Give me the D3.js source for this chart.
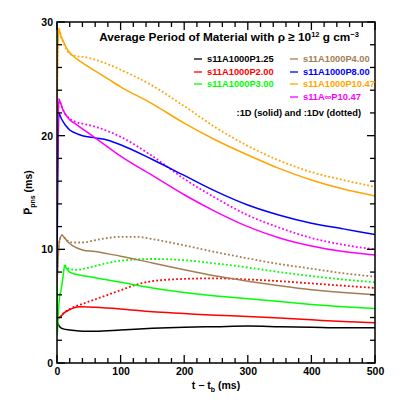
<!DOCTYPE html>
<html>
<head>
<meta charset="utf-8">
<script src="https://cdn.jsdelivr.net/npm/d3@7"></script>
<style>
  body { margin: 0; background: #fff; }
  text { font-family: "Liberation Sans", Arial, sans-serif; font-weight: bold; }
</style>
</head>
<body>
<div id="chart"></div>
<script>
// Data: [t - t_b (ms), mean period (ms)]
const p125_1D = [[0.5,3.6],[2,3.4],[5,3.15],[10,3.0],[20,2.9],[40,2.8],[60,2.8],[100,2.9],[150,3.05],[200,3.15],[250,3.2],[300,3.25],[350,3.2],[400,3.15],[450,3.1],[500,3.1]];
const p200_1D = [[0,3.8],[3,3.95],[6,4.1],[10,4.35],[20,4.7],[35,4.95],[60,4.9],[100,4.75],[150,4.5],[200,4.35],[250,4.2],[300,4.1],[350,3.95],[400,3.8],[450,3.65],[500,3.55]];
const p200_1Dv = [[0,3.8],[3,3.95],[6,4.1],[10,4.35],[20,4.75],[40,5.2],[60,5.6],[80,6.0],[100,6.4],[125,6.9],[150,7.2],[200,7.4],[250,7.45],[300,7.35],[350,7.2],[400,7.0],[450,6.8],[500,6.6]];
const p300_1D = [[0,29.3],[0.5,2.5],[2,4.3],[4,5.8],[6,6.3],[8,7.0],[10,7.8],[12,8.6],[15,8.3],[20,8.0],[30,7.8],[50,7.6],[75,7.35],[100,7.1],[150,6.6],[200,6.2],[250,5.9],[300,5.65],[350,5.4],[400,5.15],[450,4.95],[500,4.8]];
const p300_1Dv = [[12,8.6],[16,8.4],[20,8.25],[30,8.2],[50,8.4],[75,8.75],[100,9.0],[150,9.15],[200,9.05],[250,8.75],[300,8.4],[350,8.0],[400,7.65],[450,7.35],[500,7.1]];
const p400_1D = [[0,7],[2,9.5],[4,10.8],[8,11.25],[12,11.0],[18,10.6],[25,10.3],[40,9.95],[60,9.8],[80,9.6],[100,9.4],[150,8.8],[200,8.2],[250,7.65],[300,7.2],[350,6.8],[400,6.45],[450,6.2],[500,6.0]];
const p400_1Dv = [[0,7],[2,9.5],[4,10.8],[8,11.25],[12,11.0],[18,10.7],[25,10.6],[40,10.6],[60,10.8],[80,11.0],[100,11.1],[125,11.1],[150,10.9],[200,10.35],[250,9.75],[300,9.2],[350,8.7],[400,8.3],[450,7.9],[500,7.6]];
const p800_1D = [[0,8],[1,15],[3,22.0],[6,21.6],[10,21.2],[15,20.8],[20,20.5],[30,20.2],[40,20.0],[60,19.8],[80,19.6],[100,19.2],[150,17.9],[200,16.5],[250,15.1],[300,13.9],[350,13.0],[400,12.3],[450,11.8],[500,11.3]];
const p1047_1D = [[0,22],[1,27],[3,29.4],[6,28.8],[10,28.3],[15,27.7],[20,27.3],[30,26.8],[40,26.4],[60,25.7],[80,25.0],[100,24.3],[150,22.8],[200,21.1],[250,19.6],[300,18.3],[350,17.1],[400,16.1],[450,15.3],[500,14.7]];
const p1047_1Dv = [[0,22],[1,27],[3,29.4],[6,28.8],[10,28.2],[15,27.6],[20,27.2],[30,27.0],[45,26.9],[70,26.5],[100,25.8],[150,24.4],[200,22.6],[250,20.7],[300,19.1],[350,17.8],[400,16.8],[450,16.1],[500,15.5]];
const inf1047_1D = [[0,14],[1,19],[3,23.2],[6,22.8],[10,22.2],[20,21.4],[30,21.0],[40,20.6],[60,19.8],[80,19.0],[100,18.2],[150,16.5],[200,14.8],[250,13.3],[300,12.0],[350,11.0],[400,10.3],[450,9.8],[500,9.5]];
const inf1047_1Dv = [[0,14],[1,19],[3,23.2],[6,22.8],[10,22.2],[20,21.5],[30,21.2],[45,21.0],[65,20.7],[100,19.9],[150,18.2],[200,16.2],[250,14.5],[300,13.0],[350,11.9],[400,11.0],[450,10.4],[500,10.0]];

const modelNames = ["s11A1000P1.25","s11A1000P2.00","s11A1000P3.00","s11A1000P4.00","s11A1000P8.00","s11A1000P10.47","s11A\u221EP10.47"];
const modelColors = ["#000000","#ff0000","#00ff00","#a67c52","#0000ff","#ffa500","#ff00ff"];
const solidRuns = [p125_1D, p200_1D, p300_1D, p400_1D, p800_1D, p1047_1D, inf1047_1D];
const dottedRuns = [null, p200_1Dv, p300_1Dv, p400_1Dv, null, p1047_1Dv, inf1047_1Dv];

const W = 409, H = 409;
const margin = {left: 57, right: 34, top: 22, bottom: 46};

const svg = d3.select("#chart").append("svg")
    .attr("width", W)
    .attr("height", H);

const x = d3.scaleLinear().domain([0, 500]).range([margin.left, W - margin.right]);
const y = d3.scaleLinear().domain([0, 30]).range([H - margin.bottom, margin.top]);

// clip for the curves
svg.append("clipPath").attr("id", "plot-clip")
  .append("rect")
    .attr("x", x(0)).attr("y", y(30))
    .attr("width", x(500) - x(0)).attr("height", y(0) - y(30));

const line = d3.line()
    .x(d => x(d[0]))
    .y(d => y(d[1]))
    .curve(d3.curveMonotoneX);

const curves = svg.append("g").attr("clip-path", "url(#plot-clip)");

dottedRuns.forEach((run, i) => {
    if (!run) return;
    curves.append("path")
        .datum(run)
        .attr("d", line)
        .attr("fill", "none")
        .attr("stroke", modelColors[i])
        .attr("stroke-width", 1.8)
        .attr("stroke-dasharray", "1.8,2.2");
});

solidRuns.forEach((run, i) => {
    curves.append("path")
        .datum(run)
        .attr("d", line)
        .attr("fill", "none")
        .attr("stroke", modelColors[i])
        .attr("stroke-width", 1.5);
});

// --- Ticks: inward on all four sides ---
const majorLen = 8, minorLen = 5;
const xTicks = d3.range(0, 501, 20);
const yTicks = d3.range(0, 31, 2);
const ticks = svg.append("g").attr("stroke", "#000").attr("stroke-width", 1.3);

xTicks.forEach(t => {
    const len = t % 100 === 0 ? majorLen : minorLen;
    ticks.append("line").attr("x1", x(t)).attr("x2", x(t)).attr("y1", y(0)).attr("y2", y(0) - len);
    ticks.append("line").attr("x1", x(t)).attr("x2", x(t)).attr("y1", y(30)).attr("y2", y(30) + len);
});
yTicks.forEach(v => {
    const len = v % 10 === 0 ? majorLen : minorLen;
    ticks.append("line").attr("x1", x(0)).attr("x2", x(0) + len).attr("y1", y(v)).attr("y2", y(v));
    ticks.append("line").attr("x1", x(500)).attr("x2", x(500) - len).attr("y1", y(v)).attr("y2", y(v));
});

// tick labels from the axis generators
const xAxis = svg.append("g").attr("transform", `translate(0,${y(0)})`)
    .call(d3.axisBottom(x).tickValues(d3.range(0, 501, 100)).tickSize(0).tickPadding(5).tickFormat(d3.format("d")));
const yAxis = svg.append("g").attr("transform", `translate(${x(0)},0)`)
    .call(d3.axisLeft(y).tickValues(d3.range(0, 31, 10)).tickSize(0).tickPadding(4).tickFormat(d3.format("d")));
[xAxis, yAxis].forEach(g => {
    g.select(".domain").remove();
    g.selectAll(".tick text")
        .attr("fill", "#000")
        .style("font-size", "10.5px")
        .style("font-weight", "bold")
        .style("font-family", "'Liberation Sans', Arial, sans-serif");
});

// frame
svg.append("rect")
    .attr("x", x(0)).attr("y", y(30))
    .attr("width", x(500) - x(0)).attr("height", y(0) - y(30))
    .attr("fill", "none")
    .attr("stroke", "#000")
    .attr("stroke-width", 1.5);

// --- Axis titles ---
const xTitle = svg.append("text")
    .attr("x", (x(0) + x(500)) / 2)
    .attr("y", 389)
    .attr("text-anchor", "middle")
    .style("font-size", "10.5px");
xTitle.append("tspan").text("t \u2212 t");
xTitle.append("tspan").attr("dy", 2.5).style("font-size", "7px").text("b");
xTitle.append("tspan").attr("dy", -2.5).text(" (ms)");

const yTitle = svg.append("text")
    .attr("transform", `translate(32,${(y(0) + y(30)) / 2}) rotate(-90)`)
    .attr("text-anchor", "middle")
    .style("font-size", "10.5px");
yTitle.append("tspan").text("P\u0305");
yTitle.append("tspan").attr("dy", 2.5).style("font-size", "7px").text("pns");
yTitle.append("tspan").attr("dy", -2.5).text(" (ms)");

// --- Title ---
const title = svg.append("text")
    .attr("x", 229)
    .attr("y", 41)
    .attr("text-anchor", "middle")
    .style("font-size", "11.8px");
title.append("tspan").text("Average Period of Material with \u03C1 \u2265 10");
title.append("tspan").attr("dy", -4).style("font-size", "7.5px").text("12");
title.append("tspan").attr("dy", 4).text(" g cm");
title.append("tspan").attr("dy", -4).style("font-size", "7.5px").text("\u22123");

// --- Legend ---
const legendPos = [
    {lx: 194, ty: 62}, {lx: 194, ty: 75}, {lx: 194, ty: 87},
    {lx: 290, ty: 62}, {lx: 290, ty: 75}, {lx: 290, ty: 87}, {lx: 290, ty: 100}
];
const legend = svg.append("g");
modelNames.forEach((name, i) => {
    const p = legendPos[i];
    legend.append("line")
        .attr("x1", p.lx).attr("x2", p.lx + 8)
        .attr("y1", p.ty - 3).attr("y2", p.ty - 3)
        .attr("stroke", modelColors[i])
        .attr("stroke-width", 1.3);
    legend.append("text")
        .attr("x", p.lx + 13)
        .attr("y", p.ty)
        .attr("fill", modelColors[i])
        .style("font-size", "9.3px")
        .text(name);
});

svg.append("text")
    .attr("x", 361)
    .attr("y", 116)
    .attr("text-anchor", "end")
    .style("font-size", "9.3px")
    .text(":1D (solid) and :1Dv (dotted)");
</script>
</body>
</html>
